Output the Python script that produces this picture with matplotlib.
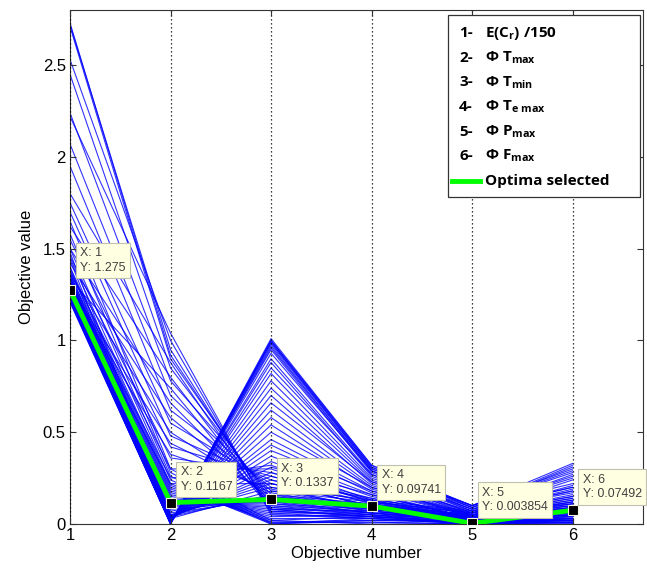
import numpy as np
import matplotlib.pyplot as plt
from matplotlib.patches import Rectangle

plt.rcParams['font.family'] = 'Liberation Sans'
plt.rcParams['mathtext.fontset'] = 'custom'
plt.rcParams['mathtext.bf'] = 'Open Sans:bold'
plt.rcParams['mathtext.rm'] = 'Open Sans'

objectives = [1, 2, 3, 4, 5, 6]

# objective values of every solution, one list per objective
# (rows: high-cost group, Tmin-peak group, low group)
obj1 = [2.73, 2.72, 2.71, 2.53, 2.45, 2.24, 2.22, 2.07, 1.95, 1.80, 1.75, 1.70,
        1.62, 1.55, 1.50, 1.46, 1.42, 1.38, 1.36, 1.33, 1.31, 1.29, 1.27, 1.26,
        1.22, 1.22, 1.23, 1.23, 1.24, 1.24, 1.25, 1.25, 1.26, 1.26, 1.27, 1.27,
        1.28, 1.28, 1.29, 1.29, 1.30, 1.30, 1.31, 1.31, 1.32, 1.32, 1.33, 1.34,
        1.35, 1.37, 1.40, 1.44, 1.48, 1.21, 1.21, 1.22, 1.23,
        1.22, 1.23, 1.23, 1.24, 1.24, 1.25, 1.25, 1.26, 1.27, 1.28, 1.29, 1.30,
        1.31, 1.32, 1.33, 1.34, 1.35, 1.36, 1.38, 1.40, 1.45, 1.50, 1.58, 1.65]
obj2 = [0.92, 0.95, 0.90, 1.00, 0.85, 0.78, 1.04, 0.70, 0.62, 0.88, 0.55, 0.48,
        0.80, 0.42, 0.66, 0.36, 0.58, 0.30, 0.50, 0.74, 0.25, 0.44, 0.38, 0.22,
        0.000, 0.002, 0.001, 0.003, 0.004, 0.006, 0.005, 0.008, 0.007, 0.010, 0.009, 0.012,
        0.011, 0.014, 0.013, 0.016, 0.018, 0.020, 0.022, 0.024, 0.026, 0.028, 0.030, 0.032,
        0.034, 0.036, 0.040, 0.045, 0.050, 0.000, 0.001, 0.002, 0.004,
        0.030, 0.040, 0.050, 0.060, 0.070, 0.080, 0.090, 0.100, 0.110, 0.120, 0.130, 0.140,
        0.150, 0.160, 0.170, 0.180, 0.190, 0.200, 0.210, 0.220, 0.240, 0.260, 0.280, 0.300]
obj3 = [0.10, 0.08, 0.12, 0.06, 0.14, 0.16, 0.05, 0.18, 0.20, 0.07, 0.22, 0.24,
        0.09, 0.26, 0.11, 0.28, 0.13, 0.30, 0.15, 0.08, 0.32, 0.17, 0.19, 0.22,
        1.00, 0.99, 0.98, 0.97, 0.95, 0.93, 0.90, 0.88, 0.85, 0.82, 0.78, 0.74,
        0.70, 0.66, 0.62, 0.58, 0.54, 0.50, 0.46, 0.43, 0.40, 0.37, 0.34, 0.31,
        0.28, 0.26, 0.24, 0.22, 0.20, 1.01, 1.00, 0.99, 0.96,
        0.180, 0.160, 0.150, 0.140, 0.150, 0.130, 0.140, 0.120, 0.110, 0.100, 0.090, 0.080,
        0.070, 0.060, 0.050, 0.040, 0.030, 0.020, 0.010, 0.000, 0.005, 0.000, 0.010, 0.020]
obj4 = [0.05, 0.04, 0.06, 0.03, 0.07, 0.08, 0.03, 0.09, 0.08, 0.04, 0.10, 0.09,
        0.05, 0.11, 0.06, 0.12, 0.06, 0.12, 0.07, 0.04, 0.13, 0.08, 0.09, 0.10,
        0.32, 0.31, 0.30, 0.29, 0.28, 0.29, 0.27, 0.26, 0.27, 0.25, 0.24, 0.23,
        0.22, 0.23, 0.21, 0.20, 0.19, 0.20, 0.18, 0.17, 0.18, 0.16, 0.15, 0.16,
        0.14, 0.13, 0.14, 0.12, 0.13, 0.32, 0.31, 0.30, 0.29,
        0.12, 0.11, 0.10, 0.11, 0.09, 0.10, 0.08, 0.09, 0.08, 0.07, 0.06, 0.07,
        0.05, 0.06, 0.04, 0.05, 0.03, 0.04, 0.02, 0.03, 0.01, 0.02, 0.01, 0.00]
obj5 = [0.02, 0.01, 0.03, 0.01, 0.02, 0.03, 0.00, 0.04, 0.03, 0.01, 0.05, 0.04,
        0.02, 0.05, 0.02, 0.06, 0.02, 0.06, 0.03, 0.01, 0.07, 0.03, 0.04, 0.05,
        0.10, 0.09, 0.10, 0.08, 0.09, 0.07, 0.08, 0.06, 0.07, 0.06, 0.05, 0.06,
        0.05, 0.07, 0.04, 0.05, 0.06, 0.04, 0.05, 0.03, 0.04, 0.03, 0.05, 0.03,
        0.04, 0.02, 0.03, 0.02, 0.03, 0.10, 0.09, 0.10, 0.08,
        0.04, 0.03, 0.05, 0.02, 0.03, 0.04, 0.02, 0.01, 0.03, 0.02, 0.01, 0.02,
        0.00, 0.01, 0.02, 0.00, 0.01, 0.00, 0.01, 0.00, 0.00, 0.01, 0.00, 0.00]
obj6 = [0.04, 0.03, 0.06, 0.02, 0.05, 0.08, 0.02, 0.10, 0.07, 0.03, 0.12, 0.09,
        0.04, 0.14, 0.05, 0.15, 0.06, 0.18, 0.08, 0.03, 0.20, 0.09, 0.11, 0.13,
        0.30, 0.32, 0.28, 0.25, 0.22, 0.27, 0.20, 0.24, 0.18, 0.21, 0.16, 0.19,
        0.14, 0.17, 0.12, 0.15, 0.11, 0.13, 0.10, 0.12, 0.09, 0.11, 0.08, 0.10,
        0.07, 0.09, 0.06, 0.08, 0.05, 0.33, 0.31, 0.29, 0.26,
        0.06, 0.08, 0.05, 0.07, 0.04, 0.06, 0.03, 0.05, 0.02, 0.04, 0.03, 0.02,
        0.01, 0.03, 0.02, 0.01, 0.02, 0.00, 0.01, 0.02, 0.00, 0.01, 0.00, 0.01]

# selected optimum
optimum = [1.275, 0.1167, 0.1337, 0.09741, 0.003854, 0.07492]
tip_text = ['1.275', '0.1167', '0.1337', '0.09741', '0.003854', '0.07492']

legend_num = ['1-', '2-', '3-', '4-', '5-', '6-']
legend_txt = [r'E(C$_{\mathbf{r}}$) /150', r'Φ T$_{\mathbf{max}}$', r'Φ T$_{\mathbf{min}}$',
              r'Φ T$_{\mathbf{e\ max}}$', r'Φ P$_{\mathbf{max}}$', r'Φ F$_{\mathbf{max}}$']

fig = plt.figure(figsize=(6.47, 5.73), dpi=100)
ax = fig.add_axes([70/647, 49/573, 573/647, 514/573])

values = np.array([obj1, obj2, obj3, obj4, obj5, obj6])
ax.plot(objectives, values, color='#0000ff', lw=0.8, alpha=0.8)
ax.plot(objectives, optimum, color='#00ff00', lw=3.5, zorder=3)
ax.plot(objectives, optimum, 's', ms=7, mfc='k', mec='#f4f4dc', mew=0.8, zorder=4)

# data tips
for x, y, t in zip(objectives, optimum, tip_text):
    dy = 16 if x == 1 else 10
    ax.annotate('X: %d\nY: %s' % (x, t), xy=(x, y), xytext=(10, dy),
                textcoords='offset pixels', ha='left', va='bottom',
                fontsize=8.9, color='#404040', linespacing=1.3, zorder=6,
                bbox=dict(boxstyle='square,pad=0.35', fc='#ffffe1', ec='#c0c0b0', lw=0.8))

ax.set_xlim(1, 6.7)
ax.set_ylim(0, 2.8)
ax.set_xticks(objectives)
ax.set_yticks([0, 0.5, 1, 1.5, 2, 2.5])
ax.set_yticklabels(['0', '0.5', '1', '1.5', '2', '2.5'])
ax.tick_params(direction='in', top=True, right=True, length=4, labelsize=12, pad=3,
               color='#333333')
for s in ax.spines.values():
    s.set_color('#333333')
ax.xaxis.grid(True, linestyle=(0, (1, 2.2)), color='k', lw=0.9)
ax.set_axisbelow(False)
ax.set_xlabel('Objective number', fontsize=12, labelpad=2)
ax.set_ylabel('Objective value', fontsize=12, labelpad=6)

# legend box drawn by hand (text-only entries + one line entry)
ax.add_patch(Rectangle((0.6597, 0.6362), 0.3351, 0.3541, transform=ax.transAxes,
                       fc='white', ec='#333333', lw=0.9, zorder=7, clip_on=False))
for i in range(7):
    yy = (524 - (33.3 + 24.56 * i)) / 514
    if i < 6:
        ax.text(0.679, yy, legend_num[i], transform=ax.transAxes, fontsize=11,
                family='Open Sans', weight='bold', va='center', zorder=8)
        ax.text(0.724, yy, legend_txt[i], transform=ax.transAxes, fontsize=11,
                family='Open Sans', weight='bold', va='center', zorder=8)
    else:
        ax.plot([(452 - 70) / 573, (480 - 70) / 573], [yy, yy], color='#00ff00', lw=3.5,
                transform=ax.transAxes, clip_on=False, zorder=8)
        ax.text(0.724, yy, 'Optima selected', transform=ax.transAxes, fontsize=11,
                family='Open Sans', weight='bold', va='center', zorder=8)

fig.savefig('out.png', dpi=100)
